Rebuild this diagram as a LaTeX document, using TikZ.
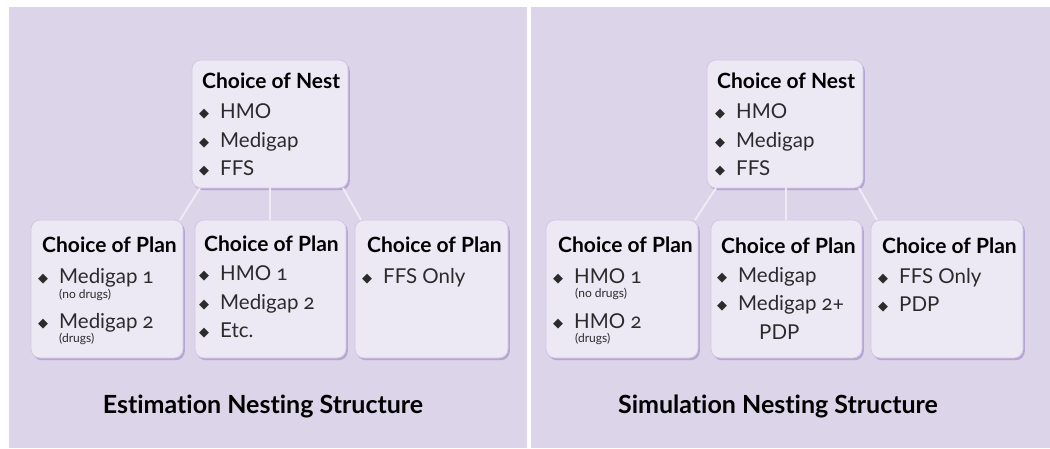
\documentclass[tikz,border=0pt]{standalone}
\usepackage{fontspec}
\setmainfont{Lato}[Numbers=OldStyle,Ligatures={NoCommon,NoRare}]
\newfontfamily\symfont{DejaVu Sans}
\usetikzlibrary{shadows,calc}
\definecolor{panelc}{HTML}{DCD5E9}
\definecolor{boxfill}{HTML}{ECE9F4}
\definecolor{boxedge}{HTML}{D2C8E4}
\definecolor{shadowc}{HTML}{A994CE}
\definecolor{linkc}{HTML}{EEEAF6}
\definecolor{bodyc}{HTML}{2B2B2B}
\newcommand{\bul}{\makebox[21pt][l]{\raisebox{1pt}{\symfont\fontsize{13}{13}\selectfont ◆}}}
\begin{document}
\begin{tikzpicture}[x=1pt,y=-1pt,
  panel/.style={fill=panelc,draw=none},
  planbox/.style={rounded corners=9pt,fill=boxfill,draw=boxedge,line width=0.8pt,
    minimum width=#1,minimum height=138pt,anchor=north west,inner sep=0pt,outer sep=0pt,
    drop shadow={shadow xshift=1.8pt,shadow yshift=-2.2pt,fill=shadowc,opacity=0.75}},
  planbox/.default=152pt,
  nestbox/.style={rounded corners=9pt,fill=boxfill,draw=boxedge,line width=0.8pt,
    minimum width=156pt,minimum height=128pt,anchor=north west,inner sep=0pt,outer sep=0pt,
    drop shadow={shadow xshift=1.8pt,shadow yshift=-2.2pt,fill=shadowc,opacity=0.75}},
  head/.style={anchor=base west,inner sep=0pt,font=\fontsize{21}{23}\selectfont\bfseries,text=black},
  itemtxt/.style={anchor=base west,inner sep=0pt,font=\fontsize{20.5}{22}\selectfont,text=bodyc},
  note/.style={anchor=base west,inner sep=0pt,font=\fontsize{12}{13}\selectfont,text=bodyc},
  titletxt/.style={anchor=base,inner sep=0pt,font=\fontsize{25}{28}\selectfont\bfseries,text=black},
  link/.style={draw=linkc,line width=2pt}]
\useasboundingbox (0,0) rectangle (1050,448);
\fill[white] (0,0) rectangle (1050,448);
\path[panel] (9,7) rectangle (527,448);
\path[panel] (531,7) rectangle (1050,448);

% ---------- Left panel ----------
\node[nestbox] (ln) at (192,60) {};
\node[planbox] (lp1) at (31,220) {};
\node[planbox=151pt] (lp2) at (195,220) {};
\node[planbox=153pt] (lp3) at (355,220) {};
\draw[link] ([xshift=8pt]ln.south west) -- ([xshift=-3pt]lp1.north east);
\draw[link] ([xshift=78pt]ln.south west) -- ([xshift=75pt]lp2.north west);
\draw[link] ([xshift=-5pt]ln.south east) -- ([xshift=6pt]lp3.north west);

\node[head] (lnh) at (202,88) {Choice of Nest};
\node[itemtxt] (lni1) at (199,118) {\bul HMO};
\node[itemtxt] (lni2) at (199,147) {\bul Medigap};
\node[itemtxt] (lni3) at (199,175) {\bul FFS};

\node[head] (lp1h) at (42,252) {Choice of Plan};
\node[itemtxt] (lp1i1) at (38,283) {\bul Medigap 1};
\node[note] (lp1n1) at (59,298) {(no drugs)};
\node[itemtxt] (lp1i2) at (38,328) {\bul Medigap 2};
\node[note] (lp1n2) at (59,342) {(drugs)};

\node[head] (lp2h) at (204,251) {Choice of Plan};
\node[itemtxt] (lp2i1) at (199,280) {\bul HMO 1};
\node[itemtxt] (lp2i2) at (199,309) {\bul Medigap 2};
\node[itemtxt] (lp2i3) at (199,337) {\bul Etc.};

\node[head] (lp3h) at (367,252) {Choice of Plan};
\node[itemtxt] (lp3i1) at (362,283) {\bul FFS Only};

\node[titletxt] (lt) at (263,413) {Estimation Nesting Structure};

% ---------- Right panel ----------
\node[nestbox] (rn) at (707,60) {};
\node[planbox] (rp1) at (546,220) {};
\node[planbox=151pt] (rp2) at (711,220) {};
\node[planbox] (rp3) at (871,220) {};
\draw[link] ([xshift=9pt]rn.south west) -- ([xshift=-3pt]rp1.north east);
\draw[link] ([xshift=79pt]rn.south west) -- ([xshift=75pt]rp2.north west);
\draw[link] ([xshift=-4pt]rn.south east) -- ([xshift=6pt]rp3.north west);

\node[head] (rnh) at (717,88) {Choice of Nest};
\node[itemtxt] (rni1) at (715,118) {\bul HMO};
\node[itemtxt] (rni2) at (715,147) {\bul Medigap};
\node[itemtxt] (rni3) at (715,175) {\bul FFS};

\node[head] (rp1h) at (558,252) {Choice of Plan};
\node[itemtxt] (rp1i1) at (553,283) {\bul HMO 1};
\node[note] (rp1n1) at (575,297) {(no drugs)};
\node[itemtxt] (rp1i2) at (553,328) {\bul HMO 2};
\node[note] (rp1n2) at (575,342) {(drugs)};

\node[head] (rp2h) at (721,253) {Choice of Plan};
\node[itemtxt] (rp2i1) at (717,282) {\bul Medigap};
\node[itemtxt] (rp2i2) at (717,310) {\bul Medigap 2+};
\node[itemtxt] (rp2i3) at (759,339) {PDP};

\node[head] (rp3h) at (882,253) {Choice of Plan};
\node[itemtxt] (rp3i1) at (878,283) {\bul FFS Only};
\node[itemtxt] (rp3i2) at (878,311) {\bul PDP};

\node[titletxt] (rt) at (778,413) {Simulation Nesting Structure};
\end{tikzpicture}
\end{document}
